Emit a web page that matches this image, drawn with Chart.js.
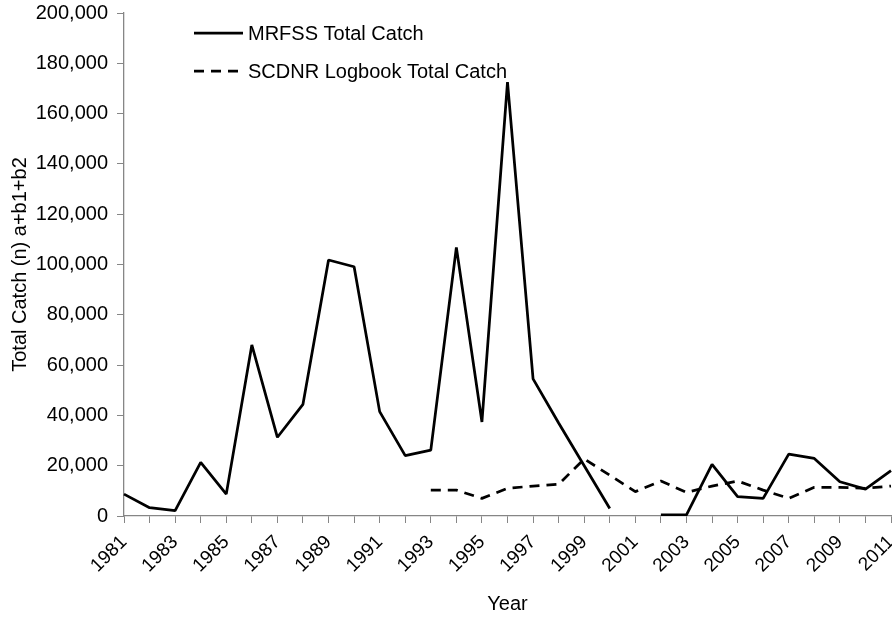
<!DOCTYPE html>
<html>
<head>
<meta charset="utf-8">
<script src="https://cdn.jsdelivr.net/npm/chart.js@4/dist/chart.umd.min.js"></script>
<style>
  body { margin: 0; background: #fff; }
  canvas { display: block; }
</style>
</head>
<body>
<canvas id="canvas-catch" width="892" height="617"></canvas>
<script>
const years = [];
for (let y = 1981; y <= 2011; y++) years.push(String(y));

// total catch per year, null where no estimate
const mrfssCatch = [
  8700, 3300, 2100, 21300, 8700, 68000, 31300, 44400, 101800, 99100,
  41500, 24000, 26200, 106800, 37400, 172500, 54500, 37000, 20000, 3000,
  null, 400, 400, 20500, 7700, 7000, 24600, 22900, 13600, 10700, 18000
];
const logbookCatch = [
  null, null, null, null, null, null, null, null, null, null,
  null, null, 10300, 10300, 7000, 11000, 11900, 12600, 22700, 16200,
  9700, 13900, 9400, 11900, 13900, 10300, 7000, 11400, 11400, 11000, 11900
];
const seriesNames = ["MRFSS Total Catch", "SCDNR Logbook Total Catch"];

const axisColor = "#868686";
const fontFamily = "'Liberation Sans', Arial, sans-serif";

window.addEventListener("load", start);

function start() {
  const ctx = document.getElementById("canvas-catch").getContext("2d");

  // legend sits inside the plot, upper left
  const legendInPlot = {
    id: "legendInPlot",
    afterDraw(chart) {
      const c = chart.ctx;
      const rows = [33, 71];
      c.save();
      c.font = "20px " + fontFamily;
      c.textBaseline = "middle";
      c.fillStyle = "#000";
      chart.data.datasets.forEach((ds, i) => {
        c.strokeStyle = ds.borderColor;
        c.lineWidth = ds.borderWidth;
        c.setLineDash(ds.borderDash || []);
        c.beginPath();
        c.moveTo(194, rows[i]);
        c.lineTo(243, rows[i]);
        c.stroke();
        c.setLineDash([]);
        c.fillText(ds.label, 248, rows[i] + 1);
      });
      c.restore();
    }
  };

  new Chart(ctx, {
    type: "line",
    data: {
      labels: years,
      datasets: [{
        label: seriesNames[0],
        data: mrfssCatch,
        borderColor: "#000",
        borderWidth: 2.75,
        borderJoinStyle: "bevel",
        pointRadius: 0,
        spanGaps: false,
        tension: 0
      }, {
        label: seriesNames[1],
        data: logbookCatch,
        borderColor: "#000",
        borderWidth: 2.75,
        borderDash: [10, 7],
        borderJoinStyle: "bevel",
        pointRadius: 0,
        spanGaps: false,
        tension: 0
      }]
    },
    options: {
      responsive: false,
      animation: false,
      layout: { padding: { top: 0, right: 1, left: 0, bottom: 0 } },
      plugins: {
        legend: { display: false },
        tooltip: { enabled: false }
      },
      scales: {
        x: {
          afterFit: scale => { scale.paddingRight = 0; scale.height = 101; },
          grid: { drawOnChartArea: false, color: axisColor, tickLength: 7 },
          border: { color: axisColor, width: 1.3 },
          ticks: {
            autoSkip: false,
            minRotation: 45,
            maxRotation: 45,
            padding: 8,
            color: "#000",
            font: { family: fontFamily, size: 19 },
            callback: function(val, index) {
              return index % 2 === 0 ? this.getLabelForValue(val) : "";
            }
          },
          title: {
            display: true,
            text: "Year",
            color: "#000",
            font: { family: fontFamily, size: 20 },
            padding: { top: 4, bottom: 1 }
          }
        },
        y: {
          min: 0,
          max: 200000,
          afterFit: scale => { scale.width = 124; scale.paddingTop = 13; },
          grid: { drawOnChartArea: false, color: axisColor, tickLength: 7 },
          border: { color: axisColor, width: 1.3 },
          ticks: {
            stepSize: 20000,
            padding: 9,
            color: "#000",
            font: { family: fontFamily, size: 20 },
            callback: val => val.toLocaleString("en-US")
          },
          title: {
            display: true,
            text: "Total Catch (n) a+b1+b2",
            color: "#000",
            font: { family: fontFamily, size: 20 },
            padding: { top: 8, bottom: 4 }
          }
        }
      }
    },
    plugins: [legendInPlot]
  });
}
</script>
</body>
</html>
